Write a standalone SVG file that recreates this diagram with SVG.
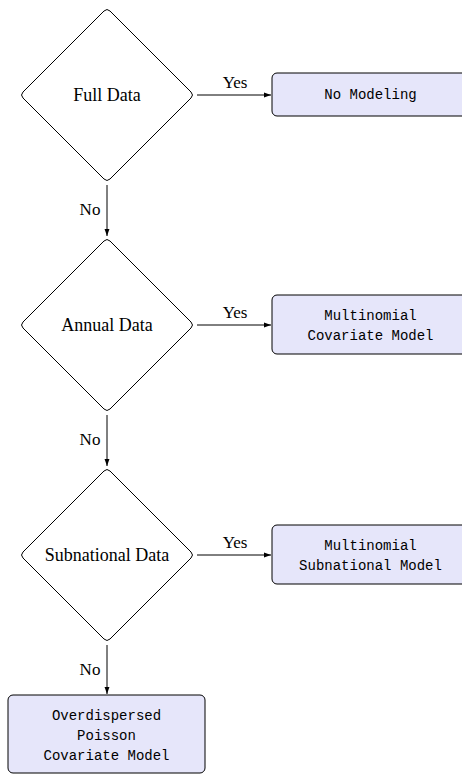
<svg xmlns="http://www.w3.org/2000/svg" width="462" height="775" viewBox="0 0 462 775">
<style>
.dia{fill:#fff;stroke:#000;stroke-width:1}
.box{fill:#e6e6fa;stroke:#000;stroke-width:1}
.st{font-family:"Liberation Serif","Times New Roman",serif;font-size:18px;text-anchor:middle;fill:#000}
.lb{font-family:"Liberation Serif","Times New Roman",serif;font-size:17px;text-anchor:middle;fill:#000}
.mo{font-family:"Liberation Mono","Courier New",monospace;font-size:14px;text-anchor:middle;fill:#000}
.cn{stroke:#000;stroke-width:1;fill:none;marker-end:url(#ah)}
</style>
<defs>
<marker id="ah" viewBox="0 0 10 10" refX="10" refY="5" markerWidth="7" markerHeight="7" markerUnits="userSpaceOnUse" orient="auto">
<path d="M0,1.5 L10,5 L0,8.5 Z" fill="#000"/>
</marker>
<path id="dm" d="M-3,-84 Q0,-87 3,-84 L84,-3 Q87,0 84,3 L3,84 Q0,87 -3,84 L-84,3 Q-87,0 -84,-3 Z"/>
</defs>
<g id="full-data" transform="translate(107,95)">
<use href="#dm" class="dia"/>
<text class="st" x="0" y="6">Full Data</text>
</g>
<g id="annual-data" transform="translate(107,325)">
<use href="#dm" class="dia"/>
<text class="st" x="0" y="6">Annual Data</text>
</g>
<g id="subnational-data" transform="translate(107,555)">
<use href="#dm" class="dia"/>
<text class="st" x="0" y="6">Subnational Data</text>
</g>
<g id="no-modeling">
<rect class="box" x="272" y="73" width="197" height="43" rx="5"/>
<text class="mo" x="370.5" y="99">No Modeling</text>
</g>
<g id="multinomial-covariate">
<rect class="box" x="272" y="295" width="197" height="59" rx="5"/>
<text class="mo" x="370.5" y="320">Multinomial</text>
<text class="mo" x="370.5" y="340">Covariate Model</text>
</g>
<g id="multinomial-subnational">
<rect class="box" x="272" y="525" width="197" height="59" rx="5"/>
<text class="mo" x="370.5" y="550">Multinomial</text>
<text class="mo" x="370.5" y="570">Subnational Model</text>
</g>
<g id="overdispersed-poisson">
<rect class="box" x="8" y="695" width="197" height="78" rx="5"/>
<text class="mo" x="106.5" y="720">Overdispersed</text>
<text class="mo" x="106.5" y="740">Poisson</text>
<text class="mo" x="106.5" y="760">Covariate Model</text>
</g>
<g id="connectors">
<path class="cn" d="M197,95 H271"/>
<path class="cn" d="M197,325 H271"/>
<path class="cn" d="M197,555 H271"/>
<path class="cn" d="M107,185 V236"/>
<path class="cn" d="M107,415 V466"/>
<path class="cn" d="M107,645 V694"/>
<text class="lb" x="235" y="88">Yes</text>
<text class="lb" x="235" y="318">Yes</text>
<text class="lb" x="235" y="548">Yes</text>
<text class="lb" x="90" y="215">No</text>
<text class="lb" x="90" y="445">No</text>
<text class="lb" x="90" y="675">No</text>
</g>
</svg>
